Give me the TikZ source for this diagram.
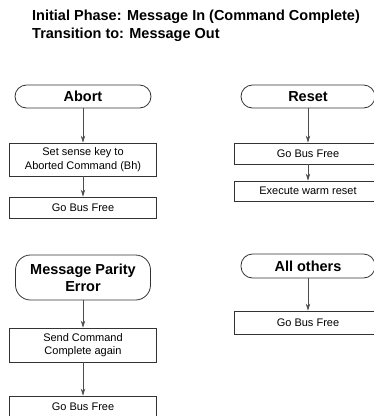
\documentclass[tikz,border=0pt]{standalone}
\usepackage{fontspec}
\setmainfont{Liberation Sans}
\usetikzlibrary{arrows.meta}
\begin{document}
\begin{tikzpicture}[x=1pt,y=-1pt,
  line/.style={draw=black!80, line width=0.8pt},
  term/.style={line, rounded corners=11.5pt, minimum width=136pt, minimum height=23pt, inner sep=0pt, font=\fontsize{14.5}{17}\selectfont\bfseries, align=center},
  proc/.style={line, minimum width=147pt, inner sep=0pt, font=\fontsize{11}{13.3}\selectfont, align=center},
  conn/.style={draw=black!70, line width=0.7pt, -{Stealth[length=7pt,width=4.5pt]}},
  ttl/.style={anchor=base west, inner sep=0pt, font=\fontsize{14.5}{18}\selectfont\bfseries}]
\useasboundingbox (0,0) rectangle (374,416);
\clip (0,0) rectangle (374,416);

\node[ttl] (t1) at (32,20) {Initial Phase: Message In (Command Complete)};
\node[ttl] (t2) at (32,38) {Transition to: Message Out};

% left column
\node[term] (abort) at (83,96.5) {Abort};
\node[proc, minimum height=33pt] (setkey) at (83,159.5) {Set sense key to\\Aborted Command (Bh)};
\node[proc, minimum height=21pt] (free1) at (83,207.5) {Go Bus Free};

\node[term, rounded corners=15pt, minimum height=45pt, minimum width=135pt] (mpe) at (83,277.5) {Message Parity\\Error};
\node[proc, minimum height=34pt] (send) at (83,345) {Send Command\\Complete again};
\node[proc, minimum height=21pt] (free2) at (83,406.5) {Go Bus Free};

% right column
\node[term, minimum width=134pt] (reset) at (308,96.5) {Reset};
\node[proc, minimum width=148pt, minimum height=21pt] (free3) at (308,153.5) {Go Bus Free};
\node[proc, minimum width=148pt, minimum height=20pt] (warm) at (308,191) {Execute warm reset};

\node[term, minimum width=134pt, minimum height=24pt] (others) at (308,266) {All others};
\node[proc, minimum width=148pt, minimum height=23pt] (free4) at (308,322.5) {Go Bus Free};

\draw[conn] (abort) -- (setkey);
\draw[conn] (setkey) -- (free1);
\draw[conn] (mpe) -- (send);
\draw[conn] (send) -- (free2);
\draw[conn] (reset) -- (free3);
\draw[conn] (free3) -- (warm);
\draw[conn] (others) -- (free4);
\end{tikzpicture}
\end{document}
